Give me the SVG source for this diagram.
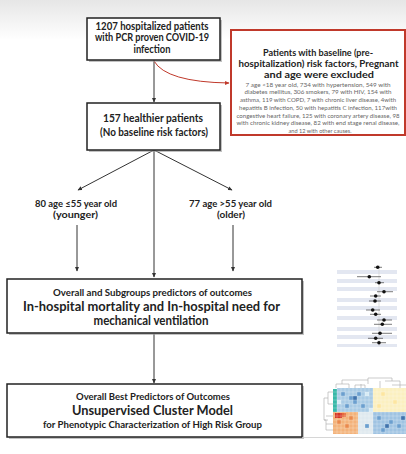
<svg xmlns="http://www.w3.org/2000/svg" width="406" height="454" viewBox="0 0 406 454">
<defs>
<linearGradient id="bg" x1="0" y1="0" x2="0" y2="1">
<stop offset="0" stop-color="#e6e6e6"/>
<stop offset="1" stop-color="#ffffff"/>
</linearGradient>
<marker id="ah" markerWidth="5" markerHeight="5" refX="4" refY="2.5" orient="auto" markerUnits="userSpaceOnUse">
<path d="M0,0.5 L4.5,2.5 L0,4.5 Z" fill="#333"/>
</marker>
<marker id="ahr" markerWidth="5" markerHeight="5" refX="4" refY="2.5" orient="auto" markerUnits="userSpaceOnUse">
<path d="M0,0.5 L4.5,2.5 L0,4.5 Z" fill="#c0392b"/>
</marker>
</defs>
<style>
.box{fill:#fff;stroke:#222;stroke-width:1.5}
.shadow{fill:#999;opacity:0.6}
.t{font-family:Lato,"Open Sans","Liberation Sans",sans-serif;font-weight:bold;fill:#222;text-anchor:middle}
.b{font-family:Lato,"Open Sans","Liberation Sans",sans-serif;fill:#666;text-anchor:middle;font-size:6.5px}
.c{fill:none;stroke:#333;stroke-width:1}
.stripe{fill:#e3e7f1}
.ci{stroke:#444;stroke-width:0.7}
.dot{fill:#111}
</style>
<rect x="0" y="0" width="406" height="40" fill="url(#bg)"/>
<rect x="0" y="40" width="406" height="414" fill="#fff"/>

<g id="connectors">
<line class="c" x1="154" y1="60" x2="154" y2="102" marker-end="url(#ah)"/>
<path d="M154,61 Q166,82 229,83" fill="none" stroke="#c0392b" stroke-width="1" marker-end="url(#ahr)"/>
<line class="c" x1="154" y1="150" x2="78" y2="190" marker-end="url(#ah)"/>
<line class="c" x1="154" y1="150" x2="232" y2="190" marker-end="url(#ah)"/>
<line class="c" x1="154" y1="150" x2="154" y2="277" marker-end="url(#ah)"/>
<line class="c" x1="77" y1="225" x2="77" y2="271" marker-end="url(#ah)"/>
<line class="c" x1="233" y1="225" x2="233" y2="271" marker-end="url(#ah)"/>
<line class="c" x1="154" y1="334" x2="154" y2="383" marker-end="url(#ah)"/>
</g>

<g id="node-hospitalized">
<rect class="shadow" x="89" y="20" width="133" height="42"/>
<rect class="box" x="87" y="18" width="133" height="42"/>
<text class="t" x="152" y="29.5" font-size="10.5" textLength="113" lengthAdjust="spacingAndGlyphs">1207 hospitalized patients</text>
<text class="t" x="152" y="41" font-size="10.5" textLength="114" lengthAdjust="spacingAndGlyphs">with PCR proven COVID-19</text>
<text class="t" x="152" y="52.5" font-size="10.5" textLength="37" lengthAdjust="spacingAndGlyphs">infection</text>
</g>

<g id="node-excluded">
<rect x="231" y="30" width="174" height="105" fill="#fff" stroke="#c0392b" stroke-width="2"/>
<g transform="translate(318,0) scale(0.75,1)">
<text class="t" x="0" y="56.5" font-size="9.2" textLength="146.7" lengthAdjust="spacingAndGlyphs">Patients with baseline (pre-</text>
<text class="t" x="0.7" y="67.5" font-size="9.2" textLength="213.3" lengthAdjust="spacingAndGlyphs">hospitalization) risk factors, Pregnant</text>
<text class="t" x="1.3" y="78.5" font-size="9.2" textLength="146.7" lengthAdjust="spacingAndGlyphs">and age were excluded</text>
<text class="b" x="0" y="87" textLength="193.3" lengthAdjust="spacingAndGlyphs">7 age &lt;18 year old, 734 with hypertension, 549 with</text>
<text class="b" x="0" y="94.5" textLength="196" lengthAdjust="spacingAndGlyphs">diabetes mellitus, 306  smokers, 79 with HIV,  154 with</text>
<text class="b" x="0" y="102.2" textLength="208" lengthAdjust="spacingAndGlyphs">asthma, 119 with COPD,  7 with chronic liver disease, 4with</text>
<text class="b" x="0" y="110" textLength="210.7" lengthAdjust="spacingAndGlyphs">hepatitis B infection, 50 with hepatitis C infection, 117with</text>
<text class="b" x="0" y="117.8" textLength="217.3" lengthAdjust="spacingAndGlyphs">congestive heart failure, 125 with coronary artery disease, 98</text>
<text class="b" x="0" y="125.5" textLength="217.3" lengthAdjust="spacingAndGlyphs">with chronic kidney disease, 82 with end stage renal disease,</text>
<text class="b" x="2.7" y="133.2" textLength="84" lengthAdjust="spacingAndGlyphs">and 12  with other causes.</text>
</g>
</g>

<g id="node-healthier">
<rect class="shadow" x="89" y="105" width="133" height="47"/>
<rect class="box" x="87" y="103" width="133" height="47"/>
<text class="t" x="153" y="122" font-size="11" textLength="100" lengthAdjust="spacingAndGlyphs">157 healthier patients</text>
<text class="t" x="154" y="136" font-size="11" textLength="108" lengthAdjust="spacingAndGlyphs">(No baseline risk factors)</text>
</g>

<g id="node-younger">
<text class="t" x="76" y="207" font-size="9" textLength="82" lengthAdjust="spacingAndGlyphs">80 age ≤55 year old</text>
<text class="t" x="75.5" y="217.5" font-size="9" textLength="45" lengthAdjust="spacingAndGlyphs">(younger)</text>
</g>

<g id="node-older">
<text class="t" x="230.5" y="207" font-size="9" textLength="83" lengthAdjust="spacingAndGlyphs">77 age &gt;55 year old</text>
<text class="t" x="231" y="217.5" font-size="9" textLength="28" lengthAdjust="spacingAndGlyphs">(older)</text>
</g>

<g id="node-predictors">
<rect class="shadow" x="9" y="281" width="295" height="54"/>
<rect class="box" x="7" y="279" width="295" height="54"/>
<text class="t" x="152.5" y="295.5" font-size="9.5" textLength="199" lengthAdjust="spacingAndGlyphs">Overall and Subgroups predictors of outcomes</text>
<text class="t" x="151.5" y="310.5" font-size="13" textLength="257" lengthAdjust="spacingAndGlyphs">In-hospital mortality and In-hospital need for</text>
<text class="t" x="151" y="325" font-size="13" textLength="115" lengthAdjust="spacingAndGlyphs">mechanical ventilation</text>
</g>

<g id="node-cluster">
<rect class="shadow" x="9" y="386" width="295" height="53"/>
<rect class="box" x="7" y="384" width="295" height="53"/>
<text class="t" x="153" y="400" font-size="9" textLength="154" lengthAdjust="spacingAndGlyphs">Overall Best Predictors of Outcomes</text>
<text class="t" x="152.5" y="414.5" font-size="13" textLength="161" lengthAdjust="spacingAndGlyphs">Unsupervised Cluster Model</text>
<text class="t" x="152.5" y="428" font-size="9" textLength="219" lengthAdjust="spacingAndGlyphs">for Phenotypic Characterization of High Risk Group</text>
</g>

<g id="forest-plot">
<rect class="stripe" x="337" y="270" width="60" height="4"/>
<rect class="stripe" x="337" y="279" width="60" height="4"/>
<rect class="stripe" x="337" y="287" width="60" height="4"/>
<rect class="stripe" x="337" y="298" width="60" height="4"/>
<rect class="stripe" x="337" y="306" width="60" height="4"/>
<rect class="stripe" x="337" y="316" width="60" height="4"/>
<rect class="stripe" x="337" y="327" width="60" height="4"/>
<rect class="stripe" x="337" y="335" width="60" height="4"/>
<rect class="stripe" x="337" y="344" width="60" height="3"/>
<line x1="379" y1="265" x2="379" y2="346" stroke="#ccc" stroke-width="0.6"/>
<g class="ci">
<line x1="374" y1="267.3" x2="382" y2="267.3"/>
<line x1="357" y1="276.7" x2="381" y2="276.7"/>
<line x1="375" y1="282.7" x2="384" y2="282.7"/>
<line x1="377" y1="291.7" x2="393" y2="291.7"/>
<line x1="370" y1="296" x2="381" y2="296"/>
<line x1="369" y1="301" x2="381" y2="301"/>
<line x1="366" y1="310" x2="380" y2="310"/>
<line x1="370" y1="314.3" x2="381" y2="314.3"/>
<line x1="377" y1="320" x2="392" y2="320"/>
<line x1="374" y1="324.3" x2="392" y2="324.3"/>
<line x1="372" y1="333.3" x2="392" y2="333.3"/>
<line x1="368" y1="338.3" x2="383" y2="338.3"/>
<line x1="372" y1="342.7" x2="386" y2="342.7"/>
</g>
<g class="dot">
<circle cx="377.7" cy="267.3" r="1.8"/>
<circle cx="369.3" cy="276.7" r="1.8"/>
<circle cx="379" cy="282.7" r="1.8"/>
<circle cx="384" cy="291.7" r="1.8"/>
<circle cx="375.7" cy="296" r="1.8"/>
<circle cx="375" cy="301" r="1.8"/>
<circle cx="372.7" cy="310" r="1.8"/>
<circle cx="375.7" cy="314.3" r="1.8"/>
<circle cx="384" cy="320" r="1.8"/>
<circle cx="382.3" cy="324.3" r="1.8"/>
<circle cx="380" cy="333.3" r="1.8"/>
<circle cx="375.7" cy="338.3" r="1.8"/>
<circle cx="379" cy="342.7" r="1.8"/>
</g>
</g>

<g id="heatmap">
<path d="M336,388 V384 H349 V388 M342,384 V380 H368 V384 M361,384 V388 M355,388 V385 H365 V388 M368,380 V378 H392 V381 M385,381 H400 V388 M380,381 V388 M392,385 H406" fill="none" stroke="#aaa" stroke-width="0.6"/>
<path d="M333,392 H328 V404 H333 M328,398 H324 V420 H328 M326,416 H333 M326,424 H333 M324,420 H326 V430 H333" fill="none" stroke="#aaa" stroke-width="0.6"/>
<rect x="333" y="389" width="4" height="23" fill="#38b8a8"/>
<rect x="337" y="388" width="36" height="24" fill="#a9cbe5"/>
<rect x="373" y="388" width="33" height="24" fill="#fbf0c0"/>
<rect x="333" y="412" width="25" height="22" fill="#f3b27a"/>
<rect x="358" y="412" width="15" height="22" fill="#dfe9ef"/>
<rect x="373" y="412" width="33" height="22" fill="#9fc3e2"/>
<g fill="#6b9fcf">
<rect x="341" y="392" width="4" height="4"/>
<rect x="349" y="396" width="4" height="4"/>
<rect x="353" y="400" width="4" height="4"/>
<rect x="357" y="392" width="4" height="4"/>
<rect x="345" y="404" width="4" height="4"/>
<rect x="361" y="404" width="4" height="4"/>
<rect x="377" y="416" width="4" height="4"/>
<rect x="389" y="420" width="4" height="4"/>
<rect x="397" y="424" width="4" height="4"/>
<rect x="381" y="428" width="4" height="4"/>
<rect x="365" y="424" width="4" height="4"/>
</g>
<g fill="#3f73ad">
<rect x="353" y="396" width="4" height="4"/>
<rect x="385" y="424" width="4" height="4"/>
<rect x="401" y="416" width="4" height="4"/>
</g>
<g fill="#d7ebf5">
<rect x="337" y="400" width="4" height="4"/>
<rect x="365" y="392" width="4" height="4"/>
<rect x="369" y="408" width="4" height="4"/>
</g>
<g fill="#fde6a0">
<rect x="381" y="392" width="4" height="4"/>
<rect x="393" y="400" width="4" height="4"/>
<rect x="377" y="404" width="4" height="4"/>
</g>
<g fill="#ea8a4c">
<rect x="337" y="420" width="4" height="4"/>
<rect x="345" y="424" width="4" height="4"/>
<rect x="349" y="416" width="4" height="4"/>
</g>
<rect x="335" y="413" width="7" height="5" fill="#d63422"/>
<rect x="342" y="413" width="4" height="4" fill="#e66a3c"/>
<path d="M337,388 V434 M341,388 V434 M345,388 V434 M349,388 V434 M353,388 V434 M357,388 V434 M361,388 V434 M365,388 V434 M369,388 V434 M373,388 V434 M377,388 V434 M381,388 V434 M385,388 V434 M389,388 V434 M393,388 V434 M397,388 V434 M401,388 V434 M405,388 V434 M333,392 H406 M333,396 H406 M333,400 H406 M333,404 H406 M333,408 H406 M333,412 H406 M333,416 H406 M333,420 H406 M333,424 H406 M333,428 H406 M333,432 H406" stroke="#fff" stroke-width="0.4" opacity="0.6" fill="none"/>
<line x1="302" y1="437.5" x2="406" y2="437.5" stroke="#ccc" stroke-width="0.8"/>
</g>
</svg>
